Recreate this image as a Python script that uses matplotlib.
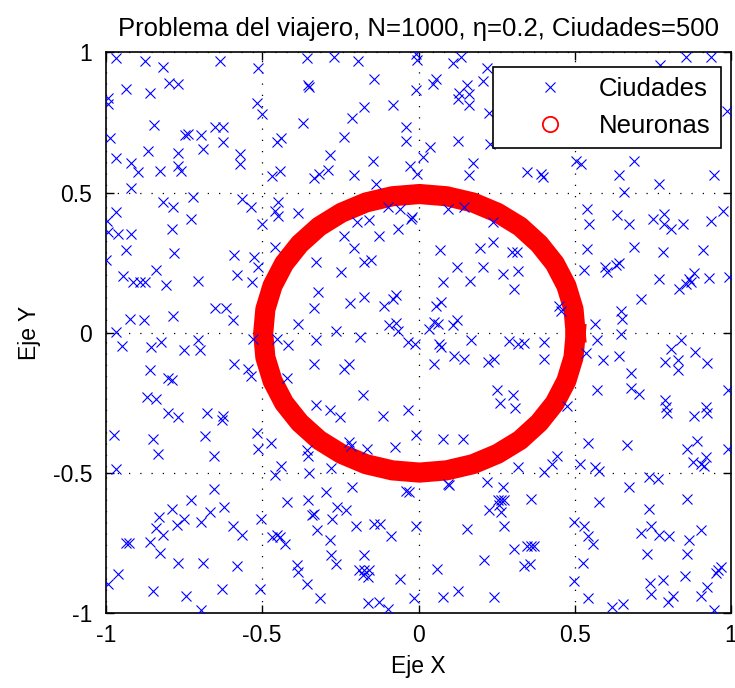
import numpy as np
import matplotlib
matplotlib.use("Agg")
from matplotlib import pyplot as plt
from matplotlib.lines import Line2D

plt.rcParams['font.family'] = ['Liberation Sans', 'DejaVu Sans']

# cities (x, y)
ciudades_xy = [
    (-0.967, 0.979), (-0.876, 0.969), (-0.819, 0.948), (-0.634, 0.969), (-0.513, 0.943), (-0.358, 0.979),
    (-0.935, 0.871), (-0.860, 0.856), (-0.799, 0.892), (-0.769, 0.886), (-0.353, 0.884), (-0.349, 0.878),
    (-0.994, 0.839), (-0.994, 0.815), (-0.518, 0.821), (-0.500, 0.779), (-0.369, 0.750), (-0.846, 0.741),
    (-0.746, 0.706), (-0.738, 0.708), (-0.697, 0.706), (-0.652, 0.735), (-0.625, 0.735), (-0.625, 0.679),
    (-0.691, 0.657), (-0.454, 0.679), (-0.440, 0.696), (-0.987, 0.694), (-0.865, 0.649), (-0.769, 0.643),
    (-0.572, 0.637), (-0.572, 0.601), (-0.967, 0.622), (-0.919, 0.607), (-0.897, 0.572), (-0.828, 0.578),
    (-0.769, 0.596), (-0.759, 0.578), (-0.470, 0.560), (-0.443, 0.578), (-0.919, 0.515), (-0.817, 0.465),
    (-0.785, 0.450), (-0.723, 0.483), (-0.564, 0.479), (-0.536, 0.447), (-0.449, 0.465), (-0.459, 0.435),
    (-0.449, 0.418), (-0.385, 0.429), (-0.967, 0.432), (-0.998, 0.400), (-0.729, 0.406), (-0.788, 0.370),
    (-0.502, 0.388), (-0.994, 0.358), (-0.962, 0.352), (-0.919, 0.352),
    (-0.270, 0.983), (-0.193, 0.969), (-0.009, 0.993), (-0.006, 0.975), (0.109, 0.963), (0.135, 0.983),
    (0.219, 0.943), (-0.142, 0.904), (0.056, 0.904), (0.045, 0.886), (-0.009, 0.865), (0.155, 0.884),
    (0.130, 0.856), (0.162, 0.851), (0.125, 0.833), (0.160, 0.813), (0.205, 0.898), (-0.174, 0.805),
    (-0.083, 0.813), (-0.212, 0.765), (0.226, 0.785), (-0.041, 0.734), (-0.041, 0.684), (-0.238, 0.699),
    (0.127, 0.684), (0.230, 0.673), (0.037, 0.663), (0.013, 0.628), (-0.283, 0.635), (-0.147, 0.613),
    (0.173, 0.604), (0.163, 0.563), (-0.027, 0.595), (-0.006, 0.566), (-0.206, 0.563), (-0.334, 0.552),
    (-0.318, 0.568), (-0.290, 0.580), (-0.137, 0.530), (-0.099, 0.447), (-0.059, 0.441), (-0.025, 0.406),
    (-0.020, 0.412), (0.093, 0.441), (0.146, 0.447), (-0.196, 0.394), (-0.158, 0.402), (-0.067, 0.370),
    (0.237, 0.394), (-0.238, 0.346), (-0.126, 0.346),
    (0.856, 0.983), (0.936, 0.983), (0.774, 0.957), (0.987, 0.791), (0.503, 0.613), (0.519, 0.601),
    (0.690, 0.613), (0.346, 0.572), (0.391, 0.567), (0.399, 0.555), (0.642, 0.563), (0.770, 0.530),
    (0.944, 0.563), (0.658, 0.501), (0.538, 0.441), (0.546, 0.388), (0.634, 0.421), (0.674, 0.388),
    (0.749, 0.405), (0.786, 0.423), (0.786, 0.388), (0.808, 0.370), (0.845, 0.388), (0.935, 0.400),
    (0.973, 0.435),
    (-0.935, 0.295), (-0.999, 0.260), (-0.782, 0.285), (-0.590, 0.279), (-0.526, 0.272), (-0.513, 0.234),
    (-0.459, 0.305), (-0.839, 0.224), (-0.946, 0.204), (-0.913, 0.180), (-0.891, 0.180), (-0.876, 0.180),
    (-0.807, 0.172), (-0.705, 0.186), (-0.582, 0.207), (-0.532, 0.180), (-0.652, 0.089), (-0.615, 0.089),
    (-0.595, 0.046), (-0.922, 0.050), (-0.878, 0.044), (-0.787, 0.058), (-0.385, 0.032), (-0.967, 0.002),
    (-0.950, -0.049), (-0.855, -0.051), (-0.823, -0.033), (-0.750, -0.063), (-0.705, -0.025), (-0.700, -0.063),
    (-0.529, -0.021), (-0.454, -0.021), (-0.417, -0.042), (-0.860, -0.132), (-0.801, -0.160), (-0.790, -0.170),
    (-0.590, -0.113), (-0.545, -0.128), (-0.536, -0.155), (-0.422, -0.160), (-0.868, -0.231), (-0.839, -0.238),
    (-0.801, -0.286), (-0.769, -0.302), (-0.678, -0.285), (-0.625, -0.298), (-0.630, -0.312),
    (-0.206, 0.302), (-0.329, 0.251), (-0.249, 0.216), (-0.174, 0.251), (-0.153, 0.260), (0.069, 0.295),
    (0.198, 0.302), (0.237, 0.323), (0.123, 0.236), (0.205, 0.236), (0.300, 0.287), (0.315, 0.287),
    (0.317, 0.222), (0.269, 0.208), (0.166, 0.186), (0.077, 0.180), (0.307, 0.157), (-0.322, 0.145),
    (-0.334, 0.089), (-0.219, 0.107), (-0.174, 0.129), (-0.110, 0.097), (-0.083, 0.121), (-0.073, 0.136),
    (0.056, 0.097), (0.072, 0.109), (-0.094, 0.026), (-0.073, 0.034), (-0.067, 0.008), (-0.035, -0.033),
    (-0.012, -0.039), (0.034, 0.014), (0.050, 0.038), (0.061, 0.032), (0.109, 0.026), (0.123, 0.044),
    (0.066, -0.039), (0.072, -0.051), (-0.265, 0.008), (-0.187, -0.015), (-0.329, -0.027), (0.168, -0.027),
    (0.291, -0.030), (0.319, -0.039), (-0.334, -0.113), (-0.238, -0.128), (-0.222, -0.113), (0.050, -0.113),
    (0.114, -0.084), (0.146, -0.093), (0.221, -0.104), (0.243, -0.093), (-0.179, -0.221), (0.251, -0.205),
    (0.262, -0.250), (0.301, -0.221), (0.308, -0.270), (-0.329, -0.259), (-0.283, -0.274), (-0.251, -0.302),
    (-0.115, -0.298), (-0.033, -0.276),
    (0.690, 0.305), (0.538, 0.299), (0.781, 0.287), (0.909, 0.295), (0.530, 0.224), (0.596, 0.234),
    (0.603, 0.216), (0.632, 0.240), (0.643, 0.248), (0.770, 0.192), (0.834, 0.157), (0.855, 0.174),
    (0.866, 0.192), (0.872, 0.180), (0.883, 0.212), (0.931, 0.196), (0.995, 0.200), (0.712, 0.121),
    (0.450, 0.094), (0.455, 0.079), (0.647, 0.079), (0.652, 0.050), (0.564, 0.032), (0.647, -0.004),
    (0.338, -0.037), (0.400, -0.033), (0.403, -0.093), (0.570, -0.027), (0.535, -0.072), (0.589, -0.098),
    (0.642, -0.084), (0.679, -0.144), (0.679, -0.196), (0.706, -0.219), (0.571, -0.205), (0.474, -0.262),
    (0.808, -0.057), (0.840, -0.027), (0.886, -0.069), (0.923, -0.108), (0.788, -0.104), (0.831, -0.098),
    (0.831, -0.134), (0.991, -0.205), (0.788, -0.241), (0.791, -0.265), (0.794, -0.288), (0.880, -0.298),
    (0.919, -0.265), (0.923, -0.288),
    (-0.974, -0.364), (-0.851, -0.379), (-0.833, -0.432), (-0.684, -0.367), (-0.654, -0.441), (-0.518, -0.356),
    (-0.515, -0.415), (-0.472, -0.394), (-0.358, -0.418), (-0.355, -0.441), (-0.967, -0.486), (-0.440, -0.477),
    (-0.459, -0.506), (-0.350, -0.500), (-0.654, -0.557), (-0.729, -0.598), (-0.422, -0.604), (-0.353, -0.598),
    (-0.342, -0.652), (-0.788, -0.628), (-0.622, -0.620), (-0.831, -0.658), (-0.750, -0.664), (-0.774, -0.685),
    (-0.668, -0.640), (-0.697, -0.676), (-0.839, -0.696), (-0.818, -0.723), (-0.595, -0.691), (-0.564, -0.721),
    (-0.505, -0.664), (-0.935, -0.750), (-0.925, -0.750), (-0.860, -0.747), (-0.828, -0.786), (-0.470, -0.729),
    (-0.454, -0.723), (-0.443, -0.729), (-0.427, -0.755), (-0.769, -0.821), (-0.691, -0.821), (-0.582, -0.833),
    (-0.390, -0.830), (-0.385, -0.854), (-0.358, -0.897), (-0.962, -0.862), (-0.994, -0.897), (-0.851, -0.921),
    (-0.743, -0.940), (-0.628, -0.913), (-0.507, -0.913), (-0.697, -0.990),
    (-0.009, -0.364), (0.077, -0.379), (0.141, -0.379), (-0.222, -0.391), (-0.217, -0.403), (-0.166, -0.415),
    (-0.076, -0.406), (-0.279, -0.482), (0.319, -0.480), (0.095, -0.539), (0.098, -0.542), (-0.041, -0.565),
    (-0.030, -0.569), (-0.212, -0.551), (-0.297, -0.569), (0.219, -0.533), (0.269, -0.551), (-0.260, -0.620),
    (-0.233, -0.632), (0.253, -0.598), (0.264, -0.598), (0.275, -0.598), (0.258, -0.616), (0.226, -0.634),
    (0.264, -0.640), (-0.334, -0.648), (-0.276, -0.664), (-0.201, -0.691), (-0.142, -0.684), (-0.123, -0.684),
    (-0.089, -0.727), (-0.009, -0.691), (0.155, -0.699), (0.275, -0.691), (-0.324, -0.703), (-0.283, -0.741),
    (-0.279, -0.792), (-0.265, -0.826), (-0.176, -0.792), (0.307, -0.770), (0.210, -0.812), (-0.190, -0.848),
    (-0.174, -0.848), (-0.158, -0.848), (-0.179, -0.866), (-0.163, -0.872), (-0.059, -0.877), (0.058, -0.842),
    (-0.315, -0.948), (-0.163, -0.964), (-0.126, -0.960), (-0.099, -0.984), (-0.014, -0.948), (0.077, -0.942),
    (0.127, -0.921), (0.243, -0.942),
    (0.543, -0.394), (0.667, -0.399), (0.859, -0.415), (0.891, -0.385), (0.991, -0.415), (0.877, -0.462),
    (0.904, -0.468), (0.920, -0.444), (0.915, -0.474), (0.444, -0.438), (0.428, -0.468), (0.402, -0.498),
    (0.517, -0.470), (0.564, -0.480), (0.578, -0.494), (0.738, -0.515), (0.765, -0.521), (0.674, -0.551),
    (0.359, -0.593), (0.576, -0.604), (0.859, -0.593), (0.738, -0.628), (0.498, -0.676), (0.530, -0.691),
    (0.541, -0.727), (0.557, -0.755), (0.712, -0.715), (0.744, -0.691), (0.771, -0.723), (0.802, -0.727),
    (0.904, -0.705), (0.866, -0.741), (0.348, -0.762), (0.359, -0.762), (0.370, -0.762), (0.338, -0.833),
    (0.357, -0.826), (0.731, -0.791), (0.859, -0.791), (0.525, -0.821), (0.496, -0.886), (0.741, -0.893),
    (0.781, -0.883), (0.745, -0.933), (0.853, -0.869), (0.957, -0.845), (0.968, -0.836), (0.952, -0.859),
    (0.923, -0.907), (0.904, -0.940), (0.543, -0.948), (0.797, -0.960), (0.813, -0.940), (0.618, -0.980),
    (0.653, -0.969), (0.944, -0.990),
]

# neuron ring, points read along the red band (every 10 degrees)
neuronas_x = [0.503, 0.496, 0.473, 0.436, 0.386, 0.325, 0.253, 0.174, 0.090, 0.003,
              -0.084, -0.168, -0.247, -0.318, -0.380, -0.430, -0.467, -0.490, -0.497,
              -0.490, -0.467, -0.430, -0.380, -0.318, -0.247, -0.168, -0.084, 0.003,
              0.090, 0.174, 0.253, 0.325, 0.386, 0.436, 0.473, 0.496, 0.503]
neuronas_y = [-0.002, 0.084, 0.168, 0.247, 0.317, 0.379, 0.428, 0.465, 0.487, 0.495,
              0.487, 0.465, 0.428, 0.379, 0.317, 0.247, 0.168, 0.084, -0.002,
              -0.088, -0.172, -0.251, -0.321, -0.383, -0.432, -0.469, -0.491, -0.499,
              -0.491, -0.469, -0.432, -0.383, -0.321, -0.251, -0.172, -0.088, -0.002]

ticks = [-1, -0.5, 0, 0.5, 1]
tick_labels = ['-1', '-0.5', '0', '0.5', '1']

cx = np.array([p[0] for p in ciudades_xy])
cy = np.array([p[1] for p in ciudades_xy])

fs = 16.5
fs_big = 18.5
fig = plt.figure(figsize=(7.35, 6.88), dpi=100)
ax = fig.add_axes([0.1442, 0.109, 0.8504, 0.8147])

ax.plot(neuronas_x, neuronas_y, color='red', lw=14.5, solid_joinstyle='round', zorder=2)
ax.plot(cx, cy, 'x', color='blue', ms=7.5, mew=0.8, zorder=3)

ax.set_xlim(-1, 1)
ax.set_ylim(-1, 1)
ax.set_xticks(ticks)
ax.set_xticklabels(tick_labels)
ax.set_yticks(ticks)
ax.set_yticklabels(tick_labels)
ax.tick_params(direction='in', length=6, width=1, top=True, right=True, labelsize=fs)
ax.tick_params(axis='x', pad=8)
ax.tick_params(axis='y', pad=10)
ax.grid(True, color='black', ls=(0, (1, 8)), lw=0.9)
for s in ax.spines.values():
    s.set_linewidth(1.2)

ax.set_title('Problema del viajero, N=1000, \u03b7=0.2, Ciudades=500', fontsize=fs_big, pad=12)
ax.set_xlabel('Eje X', fontsize=fs, labelpad=6)
ax.set_ylabel('Eje Y', fontsize=fs, labelpad=8)

handles = [Line2D([], [], ls='none', marker='x', color='blue', ms=7.5, mew=0.8),
           Line2D([], [], ls='none', marker='o', mfc='none', mec='red', ms=11, mew=1.3)]
leg = ax.legend(handles, ['Ciudades', 'Neuronas'], loc='upper right',
                bbox_to_anchor=(0.984, 0.974), fontsize=fs_big,
                fancybox=False, framealpha=1, edgecolor='black', handlelength=3.6,
                handletextpad=0.12, labelspacing=0.5, borderpad=0.4, borderaxespad=0)
leg.get_frame().set_linewidth(1.2)

fig.savefig('out.png', dpi=100)
